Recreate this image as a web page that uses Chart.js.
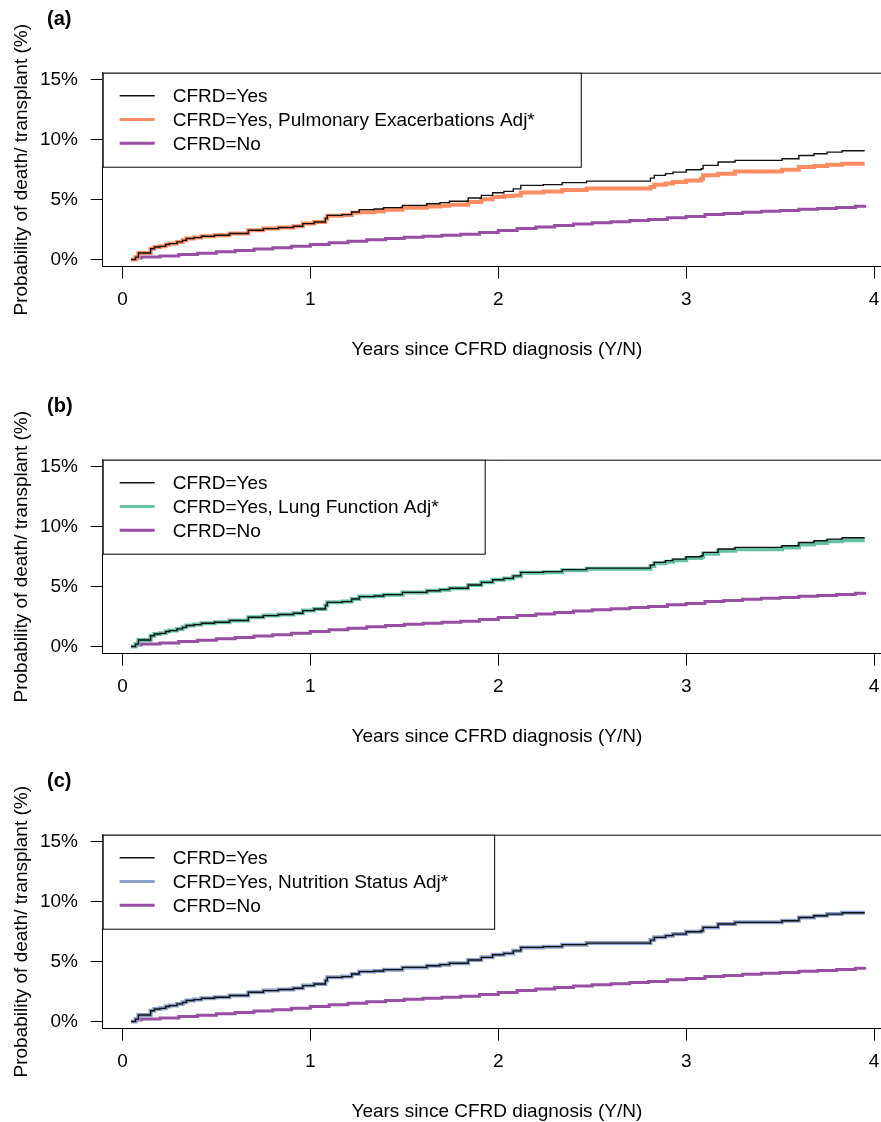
<!DOCTYPE html>
<html lang="en">
<head>
  <meta charset="UTF-8">
  <title>Probability of death/transplant by CFRD status</title>
  <script src="https://cdn.jsdelivr.net/npm/chart.js"></script>
  <style>
    html, body { margin: 0; padding: 0; background: #fff; }
    .page { position: relative; width: 881px; height: 1122px; overflow: hidden; background: #fff; }
    .panel { position: absolute; left: 0; width: 900px; height: 372px; }
    .panel canvas { display: block; }
  </style>
</head>
<body>
<div class="page">
  <div class="panel" style="top:0px"><canvas id="panelA" width="900" height="372"></canvas></div>
  <div class="panel" style="top:386.6px"><canvas id="panelB" width="900" height="372"></canvas></div>
  <div class="panel" style="top:761.6px"><canvas id="panelC" width="900" height="372"></canvas></div>
</div>

<script>
  // ---- data (% probability of death/transplant) ----
  const yearsYes = [0.046, 0.07, 0.085, 0.15, 0.17, 0.2, 0.23, 0.25, 0.29, 0.32, 0.34, 0.38, 0.42, 0.49,
    0.57, 0.67, 0.75, 0.83, 0.91, 0.96, 1.02, 1.08, 1.09, 1.17, 1.22, 1.26, 1.34, 1.39, 1.49, 1.62,
    1.69, 1.74, 1.84, 1.91, 1.97, 2.03, 2.08, 2.12, 2.24, 2.34, 2.47, 2.81, 2.83, 2.89, 2.93, 3.0,
    3.08, 3.09, 3.17, 3.26, 3.51, 3.6, 3.68, 3.75, 3.83, 3.95];

  const cfrdYes = [0, 0.2, 0.55, 0.9, 1.05, 1.1, 1.25, 1.33, 1.47, 1.6, 1.75, 1.83, 1.94, 2.03,
    2.17, 2.44, 2.58, 2.67, 2.78, 3.0, 3.13, 3.42, 3.69, 3.75, 3.97, 4.17, 4.22, 4.33, 4.52, 4.66,
    4.75, 4.86, 5.14, 5.36, 5.58, 5.69, 5.9, 6.19, 6.25, 6.42, 6.55, 6.8, 7.03, 7.17, 7.3, 7.5,
    7.58, 7.86, 8.14, 8.28, 8.42, 8.69, 8.83, 8.97, 9.08, 9.08];

  const pulmAdj = [0, 0.2, 0.55, 0.9, 1.05, 1.1, 1.25, 1.33, 1.47, 1.6, 1.75, 1.83, 1.94, 2.03,
    2.17, 2.44, 2.58, 2.67, 2.78, 3.0, 3.13, 3.4, 3.65, 3.72, 3.9, 3.95, 4.0, 4.15, 4.33, 4.42,
    4.5, 4.58, 4.8, 5.03, 5.22, 5.3, 5.35, 5.6, 5.68, 5.8, 5.92, 6.05, 6.25, 6.35, 6.47, 6.6,
    6.75, 7.03, 7.17, 7.36, 7.5, 7.72, 7.8, 7.92, 8.0, 8.0];

  const lungAdj = [0, 0.2, 0.55, 0.9, 1.05, 1.1, 1.25, 1.33, 1.47, 1.6, 1.75, 1.83, 1.94, 2.03,
    2.17, 2.44, 2.58, 2.67, 2.78, 3.0, 3.13, 3.42, 3.69, 3.75, 3.97, 4.17, 4.22, 4.33, 4.52, 4.66,
    4.75, 4.86, 5.14, 5.36, 5.58, 5.67, 5.87, 6.15, 6.2, 6.37, 6.5, 6.72, 6.95, 7.08, 7.2, 7.4,
    7.47, 7.74, 8.0, 8.13, 8.26, 8.52, 8.65, 8.79, 8.88, 8.88];

  const nutrAdj = [0, 0.2, 0.55, 0.9, 1.05, 1.1, 1.25, 1.33, 1.47, 1.6, 1.75, 1.83, 1.94, 2.03,
    2.17, 2.44, 2.58, 2.67, 2.78, 3.0, 3.13, 3.42, 3.69, 3.75, 3.97, 4.17, 4.22, 4.33, 4.52, 4.66,
    4.75, 4.86, 5.14, 5.36, 5.58, 5.69, 5.9, 6.19, 6.25, 6.42, 6.55, 6.8, 7.03, 7.17, 7.3, 7.5,
    7.58, 7.86, 8.14, 8.28, 8.42, 8.69, 8.83, 8.97, 9.08, 9.08];

  const yearsNo = [0.05, 0.07, 0.1, 0.2, 0.3, 0.4, 0.5, 0.6, 0.7, 0.8, 0.9, 1.0, 1.1, 1.2, 1.3, 1.4,
    1.5, 1.6, 1.7, 1.8, 1.9, 2.0, 2.1, 2.2, 2.3, 2.4, 2.5, 2.6, 2.7, 2.8, 2.9, 3.0, 3.1, 3.2, 3.3,
    3.4, 3.5, 3.6, 3.7, 3.8, 3.9, 3.95];
  const cfrdNo = [0, 0.12, 0.2, 0.3, 0.42, 0.52, 0.65, 0.75, 0.87, 0.98, 1.1, 1.25, 1.4, 1.52, 1.65,
    1.76, 1.86, 1.95, 2.03, 2.12, 2.25, 2.42, 2.6, 2.72, 2.85, 2.97, 3.07, 3.15, 3.25, 3.35, 3.48,
    3.6, 3.75, 3.85, 3.95, 4.03, 4.1, 4.2, 4.27, 4.35, 4.45, 4.55];

  const xTicks = [0, 1, 2, 3, 4];
  const yTicks = [0, 5, 10, 15];
  const yTickLabels = ["0%", "5%", "10%", "15%"];

  const panelTags = ["(a)", "(b)", "(c)"];
  const adjLabels = ["CFRD=Yes, Pulmonary Exacerbations Adj*", "CFRD=Yes, Lung Function Adj*", "CFRD=Yes, Nutrition Status Adj*"];
  const adjValues = [pulmAdj, lungAdj, nutrAdj];
  const adjColors = ["#fc8d62", "#66c2a5", "#8da0cb"];
  const xTitle = "Years since CFRD diagnosis (Y/N)";
  const yTitle = "Probability of death/ transplant (%)";

  const FONT = '"Liberation Sans", Arial, Helvetica, sans-serif';
  Chart.defaults.font.family = FONT;
  Chart.defaults.font.size = 19;
  Chart.defaults.color = "#000";

  function toPoints(xs, ys) {
    return xs.map((x, i) => ({ x: x, y: ys[i] }));
  }

  // box top line, panel tag and the boxed legend (R style)
  const framePlugin = {
    id: "frame",
    afterDraw(chart) {
      const ctx = chart.ctx;
      const a = chart.chartArea;
      const opts = chart.options.plugins.frame;
      ctx.save();
      ctx.strokeStyle = "#000";
      ctx.lineWidth = 1;
      ctx.beginPath();
      ctx.moveTo(a.left, a.top + 0.5);
      ctx.lineTo(a.right, a.top + 0.5);
      ctx.lineTo(a.right, a.bottom);
      ctx.stroke();

      // panel tag
      ctx.font = "bold 20px " + FONT;
      ctx.fillStyle = "#000";
      ctx.textAlign = "left";
      ctx.textBaseline = "middle";
      ctx.fillText(opts.tag, 47, 19);

      // legend
      ctx.font = "19px " + FONT;
      const ds = chart.data.datasets;
      const textX = a.left + 70;
      const maxW = Math.max(...ds.map(d => ctx.measureText(d.label).width));
      const boxR = textX + maxW + 46;
      ctx.fillStyle = "#fff";
      ctx.fillRect(a.left, a.top, boxR - a.left, 94);
      ctx.strokeStyle = "#000";
      ctx.lineWidth = 1;
      ctx.strokeRect(a.left + 0.5, a.top + 0.5, boxR - a.left, 94);
      ds.forEach((d, i) => {
        const y = a.top + 23 + i * 23.8;
        ctx.strokeStyle = d.borderColor;
        ctx.lineWidth = d.legendWidth;
        ctx.beginPath();
        ctx.moveTo(a.left + 17, y);
        ctx.lineTo(a.left + 52, y);
        ctx.stroke();
        ctx.fillStyle = "#000";
        ctx.fillText(d.label, textX, y + 1);
      });
      ctx.restore();
    }
  };

  function makePanel(id, k) {
    new Chart(document.getElementById(id), {
      type: "line",
      data: {
        datasets: [
          { label: "CFRD=Yes", data: toPoints(yearsYes, cfrdYes), borderColor: "#111", borderWidth: 1.4, legendWidth: 1.6 },
          { label: adjLabels[k], data: toPoints(yearsYes, adjValues[k]), borderColor: adjColors[k], borderWidth: 4, legendWidth: 3 },
          { label: "CFRD=No", data: toPoints(yearsNo, cfrdNo), borderColor: "#984ea3", borderWidth: 3, legendWidth: 3 }
        ]
      },
      options: {
        responsive: false,
        animation: false,
        devicePixelRatio: 1,
        layout: { padding: { top: 72.7, right: 9, left: 0, bottom: 0 } },
        elements: {
          point: { radius: 0 },
          line: { stepped: true, tension: 0, borderCapStyle: "butt" }
        },
        plugins: {
          legend: { display: false },
          tooltip: { enabled: false },
          frame: { tag: panelTags[k] }
        },
        scales: {
          x: {
            type: "linear",
            min: -0.105,
            max: 4.09,
            afterBuildTicks: s => { s.ticks = xTicks.map(v => ({ value: v })); },
            afterFit: s => { s.height = 105.3; },
            ticks: { padding: 10, maxRotation: 0, autoSkip: false, color: "#000" },
            grid: { drawOnChartArea: false, drawTicks: true, tickLength: 12, tickColor: "#000", color: "#000" },
            border: { display: true, color: "#000", width: 1 },
            title: { display: true, text: xTitle, color: "#000", padding: { top: 0, bottom: 10.6 } }
          },
          y: {
            min: -0.6,
            max: 15.6,
            afterBuildTicks: s => { s.ticks = yTicks.map(v => ({ value: v })); },
            afterFit: s => { s.width = 102.7; },
            ticks: { padding: 12.7, color: "#000", callback: (v, i) => yTickLabels[i] },
            grid: { drawOnChartArea: false, drawTicks: true, tickLength: 12, tickColor: "#000", color: "#000" },
            border: { display: true, color: "#000", width: 1 },
            title: { display: true, text: yTitle, color: "#000", padding: { top: 10.6, bottom: 0 } }
          }
        }
      },
      plugins: [framePlugin]
    });
  }

  makePanel("panelA", 0);
  makePanel("panelB", 1);
  makePanel("panelC", 2);
</script>
</body>
</html>
